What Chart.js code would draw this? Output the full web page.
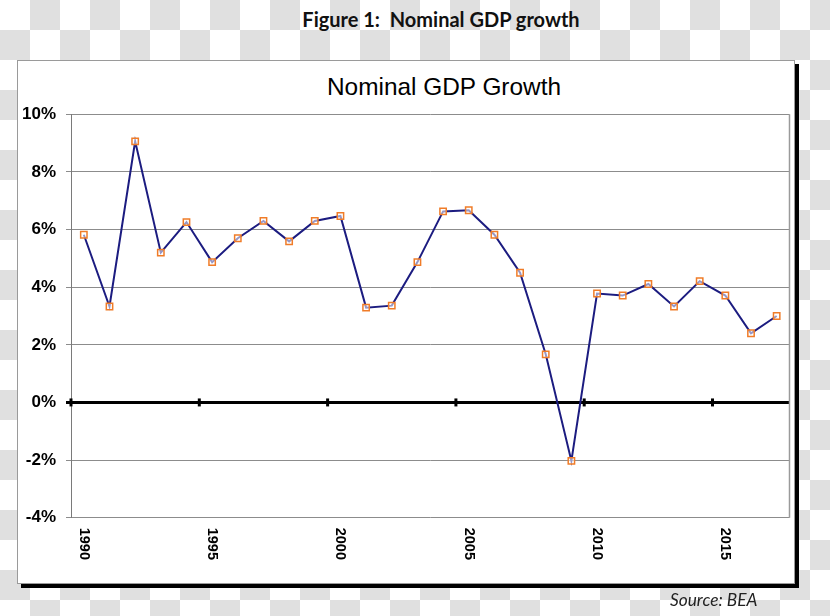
<!DOCTYPE html>
<html>
<head>
<meta charset="utf-8">
<script src="https://cdn.jsdelivr.net/npm/chart.js@4/dist/chart.umd.min.js"></script>
<style>
  html, body { margin: 0; padding: 0; }
  body {
    width: 830px; height: 616px; position: relative; overflow: hidden;
    background-color: #fff;
    background-image: conic-gradient(#e0e0e0 25%, #fff 0 50%, #e0e0e0 0 75%, #fff 0);
    background-size: 60px 60px;
  }
  #figTitle {
    position: absolute; left: 0; top: 7px; width: 882px; text-align: center;
    font: bold 20px Lato, "Open Sans", sans-serif; color: #111;
  }
  #frame {
    position: absolute; left: 17px; top: 60px; width: 776px; height: 522px;
    background: #fff; border: 1px solid #9a9a9a; box-shadow: 4px 4px 0 #000;
  }
  #chartTitle {
    position: absolute; left: 0; top: 73px; width: 888px; text-align: center;
    font: 24.4px "Liberation Sans", Arial, sans-serif; line-height: 28px; color: #000;
  }
  #source {
    position: absolute; left: 670px; top: 589px;
    font: italic 17.3px Lato, "Open Sans", sans-serif; color: #222;
  }
  #chart { position: absolute; left: 0; top: 0; }
</style>
</head>
<body>
<div id="figTitle">Figure 1:&nbsp; Nominal GDP growth</div>
<div id="frame"></div>
<div id="chartTitle">Nominal GDP Growth</div>
<canvas id="chart" width="830" height="616"></canvas>
<div id="source">Source: BEA</div>
<script>
// Datos del gráfico
const years = ['1990', '1991', '1992', '1993', '1994', '1995', '1996', '1997', '1998', '1999',
    '2000', '2001', '2002', '2003', '2004', '2005', '2006', '2007', '2008', '2009',
    '2010', '2011', '2012', '2013', '2014', '2015', '2016', '2017'];
const growth = [5.82, 3.33, 9.06, 5.20, 6.26, 4.87, 5.70, 6.30, 5.59, 6.30,
    6.47, 3.29, 3.36, 4.87, 6.63, 6.67, 5.82, 4.50, 1.67, -2.03,
    3.78, 3.71, 4.11, 3.33, 4.21, 3.71, 2.40, 3.00];
const yMin = -4;
const yMax = 10;
const yStep = 2;
const labelEvery = 5;

// Eje cero, marcas y borde del área de trazado
const axisPlugin = {
    id: 'axisPlugin',
    beforeDatasetsDraw(chart) {
        const ctx = chart.ctx;
        const area = chart.chartArea;
        const x = chart.scales.x;
        const y0 = chart.scales.y.getPixelForValue(0);
        const half = (x.getPixelForValue(1) - x.getPixelForValue(0)) / 2;
        ctx.save();
        ctx.strokeStyle = '#9a9a9a';
        ctx.lineWidth = 1.5;
        ctx.beginPath();
        ctx.moveTo(area.right, area.top);
        ctx.lineTo(area.right, area.bottom);
        ctx.stroke();
        ctx.strokeStyle = '#000';
        ctx.lineWidth = 3;
        years.forEach((yr, i) => {
            if (i % labelEvery !== 0) return;
            const px = x.getPixelForValue(i) - half;
            ctx.beginPath();
            ctx.moveTo(px, y0 - 4);
            ctx.lineTo(px, y0 + 4);
            ctx.stroke();
        });
        ctx.restore();
    },
    afterDraw(chart) {
        const ctx = chart.ctx;
        const x = chart.scales.x;
        const top = chart.chartArea.bottom + 10;
        ctx.save();
        ctx.fillStyle = '#000';
        ctx.font = 'bold 14.5px "Liberation Sans", Arial, sans-serif';
        ctx.textAlign = 'left';
        ctx.textBaseline = 'middle';
        years.forEach((yr, i) => {
            if (i % labelEvery !== 0) return;
            ctx.save();
            ctx.translate(x.getPixelForValue(i), top);
            ctx.rotate(Math.PI / 2);
            ctx.fillText(yr, 0, 0);
            ctx.restore();
        });
        ctx.restore();
    }
};

new Chart(document.getElementById('chart').getContext('2d'), {
    type: 'line',
    data: {
        labels: years,
        datasets: [{
            data: growth,
            borderColor: '#1c1c80',
            borderWidth: 2,
            tension: 0,
            pointStyle: 'rect',
            pointRadius: 4.5,
            pointBorderColor: '#f07c28',
            pointBorderWidth: 1.5,
            pointBackgroundColor: 'rgba(255,255,255,0.55)'
        }]
    },
    options: {
        responsive: false,
        animation: false,
        devicePixelRatio: 1,
        layout: { padding: { left: 0, right: 40.5, top: 114.3, bottom: 0 } },
        plugins: {
            legend: { display: false },
            title: { display: false },
            tooltip: { enabled: false }
        },
        scales: {
            x: {
                type: 'category',
                offset: true,
                grid: { display: false },
                border: { display: false },
                ticks: { display: false },
                afterFit(scale) { scale.height = 98.3; }
            },
            y: {
                min: yMin,
                max: yMax,
                ticks: {
                    stepSize: yStep,
                    padding: 10,
                    color: '#000',
                    font: { family: '"Liberation Sans", Arial, sans-serif', size: 17, weight: 'bold' },
                    callback: v => v + '%'
                },
                grid: {
                    color: ctx => ctx.tick && ctx.tick.value === 0 ? '#000' : '#8c8c8c',
                    lineWidth: ctx => ctx.tick && ctx.tick.value === 0 ? 3 : 1,
                    tickLength: 5
                },
                border: { color: '#7a7a7a', width: 1 },
                afterFit(scale) { scale.width = 71; }
            }
        }
    },
    plugins: [axisPlugin]
});
</script>
</body>
</html>
